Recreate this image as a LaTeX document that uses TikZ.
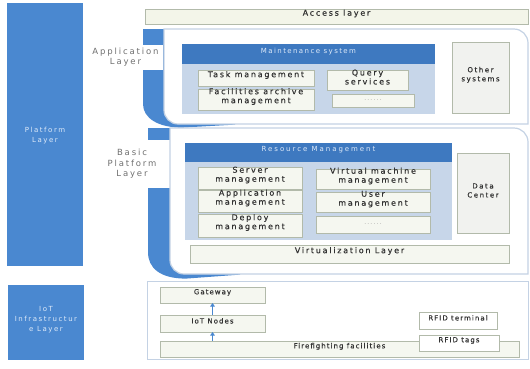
\documentclass[tikz,border=0pt]{standalone}
\usepackage{fontspec}
\setmainfont{DejaVu Sans}[LetterSpace=22]
\newfontfamily\boxfont{DejaVu Sans}[LetterSpace=22, FakeBold=0.5]
\newfontfamily\iotfont{DejaVu Sans}[LetterSpace=15, FakeBold=0.3]
\newfontfamily\hdrfont{DejaVu Sans}[LetterSpace=20]
\newfontfamily\hdrwidefont{DejaVu Sans}[LetterSpace=28]
\usetikzlibrary{arrows.meta,fit}

\definecolor{layerblue}{RGB}{74,136,208}
\definecolor{hdrblue}{RGB}{62,121,192}
\definecolor{bodyblue}{RGB}{199,214,233}
\definecolor{boxfill}{RGB}{245,247,240}
\definecolor{boxline}{RGB}{178,186,170}
\definecolor{panelline}{RGB}{196,210,228}
\definecolor{accfill}{RGB}{243,245,233}
\definecolor{grayfill}{RGB}{241,242,239}
\definecolor{txt}{RGB}{50,50,50}
\definecolor{sidetxt}{RGB}{112,112,112}
\definecolor{lighttxt}{RGB}{222,234,249}
\definecolor{dotgray}{RGB}{160,160,160}

\tikzset{
  every node/.style={inner sep=0pt, outer sep=0pt, align=center},
  sidecol/.style={fill=layerblue, draw=none, text=lighttxt,
    font=\fontsize{7}{10}\selectfont},
  sidelabel/.style={fill=white, text=sidetxt, font=\fontsize{8.5}{10.5}\selectfont},
  panel/.style={draw=panelline, line width=1.2pt, fill=white},
  hdr/.style={fill=hdrblue, text=lighttxt, font=\hdrfont\fontsize{7}{8}\selectfont},
  body/.style={fill=bodyblue},
  inbox/.style={draw=boxline, line width=0.6pt, fill=boxfill, text=txt,
    font=\boxfont\fontsize{8}{9}\selectfont},
  smallbox/.style={inbox, font=\iotfont\fontsize{7}{8}\selectfont},
  tallbox/.style={draw=boxline, line width=0.6pt, fill=grayfill, text=txt,
    font=\boxfont\fontsize{7}{9}\selectfont},
  dots/.style={inbox, text=dotgray, font=\hdrfont\fontsize{6}{6}\selectfont},
  uparrow/.style={draw=layerblue, line width=1pt,
    -{Triangle[length=3.5pt,width=4.5pt]}},
}

\begin{document}
\begin{tikzpicture}[x=1pt,y=-1pt]
\useasboundingbox[fill=white] (0,0) rectangle (530,368);

% left-hand layer columns
\node[sidecol, fit={(7,3) (83,266)}] (platform) {};
\node[text=lighttxt, font=\fontsize{7}{10}\selectfont] (platformlbl) at (45,136) {Platform\\Layer};
\node[sidecol, fit={(8,285) (84,360)}] (iotlayer) {IoT\\Infrastructur\\e Layer};

% access layer bar
\node[inbox, fill=accfill, fit={(145,9) (528,24)}] (access) {Access layer};

% application layer: blue bracket, side label, white panel
\fill[layerblue] (143,29) -- (165,29) -- (165,100) -- (235,100) -- (235,124.6)
  -- (182,127.6) .. controls (158,127.6) and (143,118) .. (143,104) -- cycle;
\node[sidelabel, minimum width=75, minimum height=25] (applbl) at (125.5,57) {Application\\Layer};
\draw[panel] (164,29) -- (514,29) .. controls (521.7,29) and (528,35.3) .. (528,43)
  -- (528,124) -- (178,124) .. controls (170.3,124) and (164,117.7) .. (164,110) -- cycle;

% maintenance system
\node[hdr, fit={(182,44) (435,64)}] (maint) {Maintenance system};
\node[body, fit={(182,64) (435,114)}] (maintbody) {};
\node[inbox, fit={(198,70) (314,86)}] (task) {Task management};
\node[inbox, fit={(198,89) (314,110)}] (archive) {Facilities archive\\management};
\node[inbox, fit={(327,70) (408,90)}] (query) {Query\\services};
\node[dots, fit={(332,94) (414,107)}] (maintmore) {......};
\node[tallbox, fit={(452,42) (509,113)}] (other) {Other\\systems};

% basic platform layer: blue bracket, side label, white panel
\fill[layerblue] (148,128) -- (171,128) -- (171,240) -- (240,240) -- (240,274.6)
  -- (186,278.6) .. controls (160,278.6) and (148,268) .. (148,252) -- cycle;
\node[sidelabel, minimum width=76, minimum height=48] (basiclbl) at (132,164) {Basic\\Platform\\Layer};
\draw[panel] (170,128) -- (514,128) .. controls (521.7,128) and (528,134.3) .. (528,142)
  -- (528,274) -- (184,274) .. controls (176.3,274) and (170,267.7) .. (170,260) -- cycle;

% resource management
\node[hdr, font=\hdrwidefont\fontsize{7}{8}\selectfont, fit={(185,143) (452,162)}] (resource) {Resource Management};
\node[body, fit={(185,162) (452,240)}] (resbody) {};
\node[inbox, fit={(198,167) (302,189)}] (server) {Server\\management};
\node[inbox, fit={(198,190) (302,212)}] (appmgmt) {Application\\management};
\node[inbox, fit={(198,214) (302,237)}] (deploy) {Deploy\\management};
\node[inbox, fit={(316,169) (430,189)}] (vm) {Virtual machine\\management};
\node[inbox, fit={(316,192) (430,212)}] (user) {User\\management};
\node[dots, fit={(316,216) (430,233)}] (resmore) {......};
\node[tallbox, fit={(457,153) (509,233)}] (datacenter) {Data\\Center};
\node[inbox, fit={(190,245) (509,263)}] (virt) {Virtualization Layer};

% IoT infrastructure panel
\draw[panel, line width=1pt] (147,281) rectangle (528,359);
\node[smallbox, fit={(160,287) (265,303)}] (gateway) {Gateway};
\node[smallbox, fit={(160,315) (265,332)}] (iotnodes) {IoT Nodes};
\node[smallbox, fit={(160,341) (519,357)}] (fire) {Firefighting facilities};
\node[smallbox, fill=white, fit={(419,312) (497,329)}] (rfidterm) {RFID terminal};
\node[smallbox, fill=white, fit={(419,335) (499,351)}] (rfidtags) {RFID tags};
\draw[uparrow] (iotnodes.north) -- (gateway.south);
\draw[uparrow] (iotnodes.south |- fire.north) -- (iotnodes.south);
\end{tikzpicture}
\end{document}
